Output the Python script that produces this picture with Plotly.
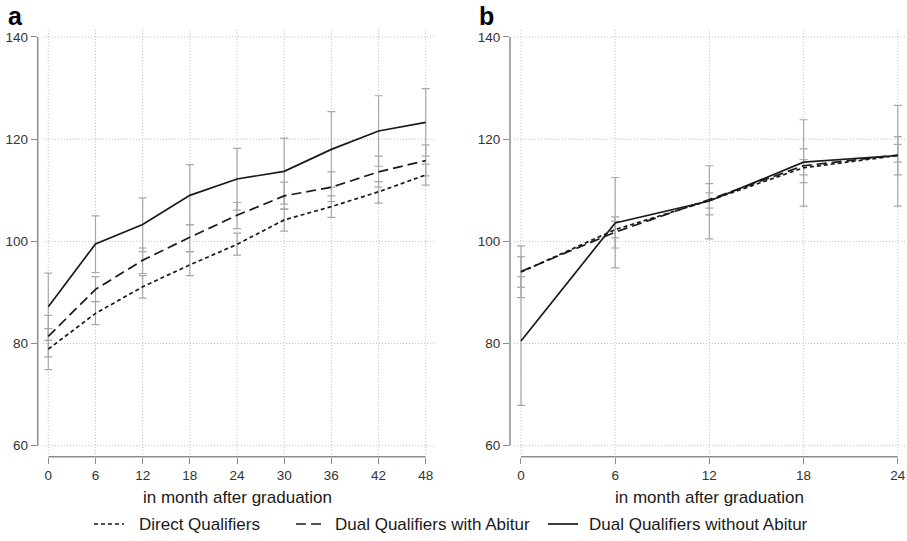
import plotly.graph_objects as go

W, H = 907, 541

# ---------------- data ----------------
months_a = [0, 6, 12, 18, 24, 30, 36, 42, 48]
months_b = [0, 6, 12, 18, 24]
y_ticks = [60, 80, 100, 120, 140]

series_names = ["Direct Qualifiers", "Dual Qualifiers with Abitur", "Dual Qualifiers without Abitur"]

# Panel a
direct_a = [78.9, 85.9, 91.1, 95.4, 99.4, 104.2, 106.8, 109.7, 113.0]
direct_a_hi = [82.9, 88.2, 93.3, 98.0, 101.6, 106.3, 108.9, 111.7, 115.1]
direct_a_lo = [74.9, 83.7, 88.9, 93.3, 97.3, 102.0, 104.7, 107.5, 111.0]
abitur_a = [81.4, 90.6, 96.3, 100.8, 105.1, 108.9, 110.6, 113.6, 115.8]
abitur_a_hi = [85.5, 93.1, 98.7, 103.3, 107.6, 111.6, 113.6, 116.7, 118.9]
abitur_a_lo = [77.4, 88.2, 93.7, 98.0, 102.5, 106.3, 107.8, 110.6, 112.8]
noabi_a = [87.2, 99.5, 103.3, 109.0, 112.2, 113.7, 118.0, 121.6, 123.3]
noabi_a_hi = [93.8, 105.0, 108.5, 115.0, 118.2, 120.2, 125.4, 128.5, 129.9]
noabi_a_lo = [80.6, 93.9, 98.0, 103.2, 106.1, 107.3, 110.6, 114.7, 116.7]

# Panel b
direct_b = [94.0, 102.3, 108.0, 114.4, 116.8]
direct_b_hi = [99.1, 103.9, 109.5, 116.0, 119.0]
direct_b_lo = [89.0, 100.7, 106.5, 113.0, 115.5]
abitur_b = [94.1, 101.8, 108.2, 114.8, 116.9]
abitur_b_hi = [97.0, 104.8, 111.3, 118.1, 120.5]
abitur_b_lo = [91.0, 98.7, 105.2, 111.5, 113.0]
noabi_b = [80.5, 103.6, 107.9, 115.5, 116.8]
noabi_b_hi = [93.1, 112.5, 114.8, 123.8, 126.6]
noabi_b_lo = [67.9, 94.8, 100.5, 106.9, 106.9]

# ---------------- styles ----------------
FONT = "Liberation Sans, Arial, sans-serif"
LINE_COL = "#1a1a1a"
ERR_COL = "#a8a8a8"
AX_COL = "#8c8c8c"
GRID_COL = "#bcbcbc"
dashes = ["4px,3px", "10px,5px", "solid"]

def px_x(p):
    return p / W

def px_y(p):
    return 1 - p / H

fig = go.Figure()

panels = [
    ("x", "y", months_a, [(direct_a, direct_a_hi, direct_a_lo),
                          (abitur_a, abitur_a_hi, abitur_a_lo),
                          (noabi_a, noabi_a_hi, noabi_a_lo)]),
    ("x2", "y2", months_b, [(direct_b, direct_b_hi, direct_b_lo),
                            (abitur_b, abitur_b_hi, abitur_b_lo),
                            (noabi_b, noabi_b_hi, noabi_b_lo)]),
]

for pi, (xa, ya, months, sers) in enumerate(panels):
    for si, (vals, hi, lo) in enumerate(sers):
        fig.add_trace(go.Scatter(
            x=months, y=vals, xaxis=xa, yaxis=ya, mode="markers",
            marker=dict(size=1, color="rgba(0,0,0,0)"),
            error_y=dict(type="data", symmetric=False,
                         array=[h - v for h, v in zip(hi, vals)],
                         arrayminus=[v - l for l, v in zip(lo, vals)],
                         color=ERR_COL, thickness=1.2, width=4),
            showlegend=False, hoverinfo="skip"))
    for si, (vals, hi, lo) in enumerate(sers):
        fig.add_trace(go.Scatter(
            x=months, y=vals, xaxis=xa, yaxis=ya, mode="lines",
            line=dict(color=LINE_COL, width=1.7, dash=dashes[si]),
            name=series_names[si], showlegend=False, hoverinfo="skip"))

y_range = [57.85, 141.76]
xa_range = [-1.35, 49.18]
xb_range = [-0.70, 24.46]

axis_common = dict(showgrid=False, zeroline=False, showline=False, ticks="outside",
                   ticklen=6, tickwidth=1.3, tickcolor=AX_COL,
                   tickfont=dict(family=FONT, size=13.5, color="#333333"))

fig.update_layout(
    width=W, height=H, margin=dict(l=0, r=0, t=0, b=0),
    paper_bgcolor="white", plot_bgcolor="white",
    xaxis=dict(domain=[px_x(37.7), px_x(435)], range=xa_range, tickvals=months_a, **axis_common),
    yaxis=dict(domain=[px_y(456.7), px_y(28)], range=y_range, tickvals=y_ticks, **axis_common),
    xaxis2=dict(domain=[px_x(510), px_x(905)], range=xb_range, tickvals=months_b, anchor="y2", **axis_common),
    yaxis2=dict(domain=[px_y(456.7), px_y(28)], range=y_range, tickvals=y_ticks, anchor="x2", **axis_common),
    showlegend=False,
)

shapes = []
for xa, ya, months, gx0, xmax in [("x", "y", months_a, -0.67, xa_range[1]),
                                  ("x2", "y2", months_b, -0.45, xb_range[1])]:
    for m in months:
        shapes.append(dict(type="line", xref=xa, yref=ya, x0=m, x1=m, y0=58.4, y1=y_range[1],
                           line=dict(color=GRID_COL, width=1, dash="1px,2px"), layer="below"))
    for v in y_ticks:
        shapes.append(dict(type="line", xref=xa, yref=ya, x0=gx0, x1=xmax, y0=v, y1=v,
                           line=dict(color=GRID_COL, width=1, dash="1px,2px"), layer="below"))
    shapes.append(dict(type="line", xref=xa + " domain", yref=ya, x0=0, x1=0, y0=y_ticks[0], y1=y_ticks[-1],
                       line=dict(color=AX_COL, width=1.5)))
    shapes.append(dict(type="line", xref=xa, yref=ya + " domain", x0=months[0], x1=months[-1], y0=0, y1=0,
                       line=dict(color=AX_COL, width=1.5)))

# legend (manual): sample line + label
legend_samples = [(94, 124, 137), (296, 326, 333), (548, 578, 587)]
ann = []
for si, (sx0, sx1, tx) in enumerate(legend_samples):
    shapes.append(dict(type="line", xref="paper", yref="paper",
                       x0=px_x(sx0), x1=px_x(sx1), y0=px_y(524), y1=px_y(524),
                       line=dict(color=LINE_COL, width=1.7, dash=dashes[si])))
    ann.append(dict(text=series_names[si], x=px_x(tx), y=px_y(524), xref="paper", yref="paper",
                    xanchor="left", yanchor="middle", showarrow=False,
                    font=dict(family=FONT, size=17, color="#1a1a1a")))
fig.update_layout(shapes=shapes)

ann.append(dict(text="<b>a</b>", x=px_x(6), y=px_y(16), xref="paper", yref="paper",
                xanchor="left", yanchor="middle", showarrow=False,
                font=dict(family=FONT, size=25, color="black")))
ann.append(dict(text="<b>b</b>", x=px_x(477), y=px_y(16), xref="paper", yref="paper",
                xanchor="left", yanchor="middle", showarrow=False,
                font=dict(family=FONT, size=25, color="black")))
for cx in [237, 709]:
    ann.append(dict(text="in month after graduation", x=px_x(cx), y=px_y(497), xref="paper", yref="paper",
                    xanchor="center", yanchor="middle", showarrow=False,
                    font=dict(family=FONT, size=17, color="#1a1a1a")))
fig.update_layout(annotations=ann)

fig.write_html("out.html", config={"displayModeBar": False},
               post_script="document.body.style.margin='0px';")
